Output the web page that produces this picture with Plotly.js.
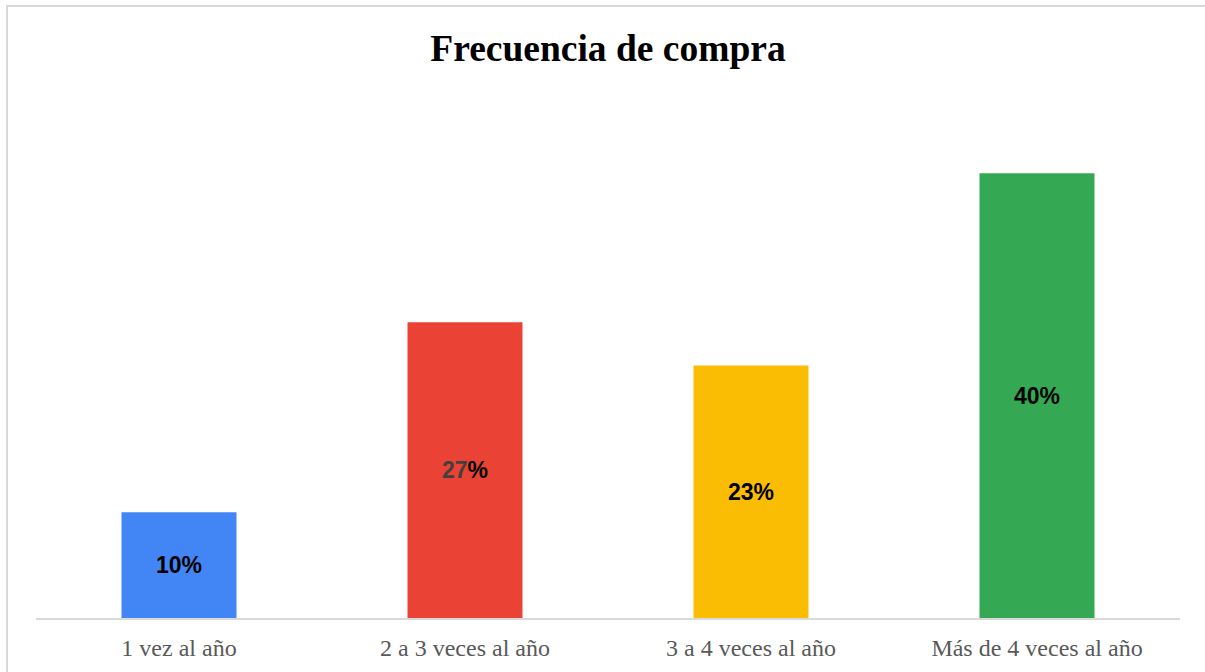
<!DOCTYPE html>
<html>
<head>
<meta charset="utf-8">
<script src="https://cdn.plot.ly/plotly-3.0.1.min.js"></script>
<style>
  html, body { margin: 0; padding: 0; background: #fff; }
  #wrap { position: relative; width: 1205px; height: 672px; overflow: hidden; }
  #chart { width: 1205px; height: 672px; }
  #frame { position: absolute; left: 6px; top: 5px; width: 1300px; height: 800px;
           border-left: 2px solid #d9d9d9; border-top: 2px solid #d9d9d9; pointer-events: none; }
</style>
</head>
<body>
<div id="wrap">
  <div id="chart"></div>
  <div id="frame"></div>
</div>
<script>
// Data
const categories = ["1 vez al año", "2 a 3 veces al año", "3 a 4 veces al año", "Más de 4 veces al año"];
const values = [9.5, 26.6, 22.7, 40.0];
const labels = ["10", "27", "23", "40"];
const labelNumberColors = ["#000000", "#404040", "#000000", "#000000"];
const barColors = ["#4285F4", "#EA4335", "#FBBC04", "#34A853"];

const text = labels.map((l, i) => '<span style="color:' + labelNumberColors[i] + '">' + l + '</span>%');

const trace = {
  type: "bar",
  x: categories,
  y: values,
  marker: { color: barColors },
  text: text,
  textposition: "inside",
  insidetextanchor: "middle",
  textangle: 0,
  constraintext: "none",
  insidetextfont: { family: "Liberation Sans, Arial, sans-serif", size: 23, color: "#000000", weight: "bold" },
  hoverinfo: "none"
};

const layout = {
  width: 1205,
  height: 672,
  margin: { l: 36, r: 25, t: 62, b: 54 },
  paper_bgcolor: "rgba(0,0,0,0)",
  plot_bgcolor: "rgba(0,0,0,0)",
  bargap: 0.598,
  showlegend: false,
  title: {
    text: "<b>Frecuencia de compra</b>",
    font: { family: "Liberation Serif, Times New Roman, serif", size: 37.5, color: "#000000" },
    xref: "paper",
    x: 0.5,
    xanchor: "center",
    yref: "container",
    y: 1 - 48 / 672,
    yanchor: "middle"
  },
  xaxis: {
    showline: true,
    linecolor: "#d9d9d9",
    linewidth: 2,
    ticks: "",
    ticklabelstandoff: 7,
    showgrid: false,
    zeroline: false,
    tickfont: { family: "Liberation Serif, Times New Roman, serif", size: 24, color: "#595959" },
    fixedrange: true
  },
  yaxis: {
    range: [0, 50],
    visible: false,
    showgrid: false,
    zeroline: false,
    fixedrange: true
  }
};

Plotly.newPlot("chart", [trace], layout, { staticPlot: true, displayModeBar: false });
</script>
</body>
</html>
